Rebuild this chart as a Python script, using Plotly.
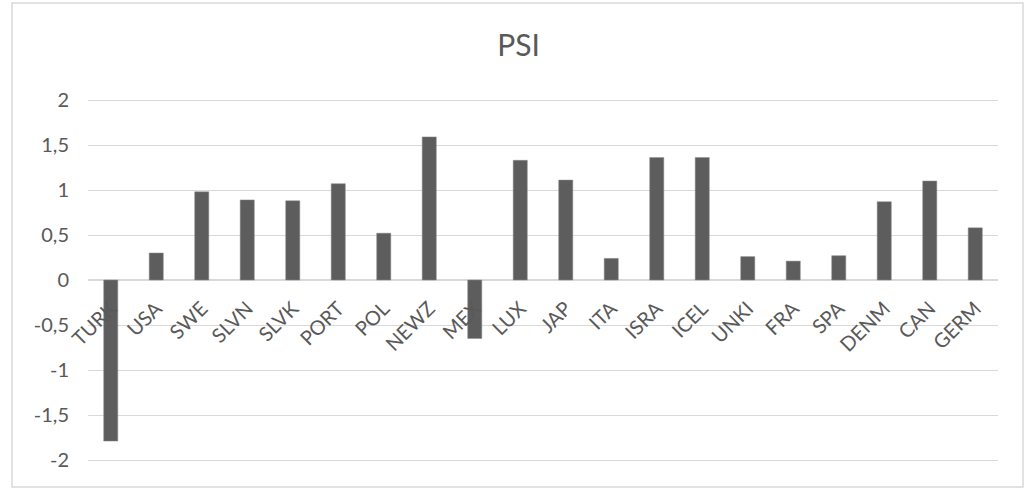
import plotly.graph_objects as go

categories = ["TURK", "USA", "SWE", "SLVN", "SLVK", "PORT", "POL", "NEWZ", "MEX", "LUX",
              "JAP", "ITA", "ISRA", "ICEL", "UNKI", "FRA", "SPA", "DENM", "CAN", "GERM"]
psi = [-1.79, 0.30, 0.98, 0.89, 0.88, 1.07, 0.52, 1.59, -0.65, 1.33,
       1.11, 0.24, 1.36, 1.36, 0.26, 0.21, 0.27, 0.87, 1.10, 0.58]
y_ticks = [-2, -1.5, -1, -0.5, 0, 0.5, 1, 1.5, 2]
y_tick_text = ["-2", "-1,5", "-1", "-0,5", "0", "0,5", "1", "1,5", "2"]

FONT = "Lato, Open Sans, sans-serif"
GREY_TXT = "#595959"

fig = go.Figure(go.Bar(
    x=categories, y=psi,
    marker=dict(color="#5d5d5d", line=dict(color="#8a8a8a", width=0.5)),
))

fig.update_layout(
    width=1029, height=488,
    margin=dict(l=88, r=31, t=82, b=10),
    paper_bgcolor="white", plot_bgcolor="white",
    bargap=0.69,
    showlegend=False,
    title=dict(text="PSI", x=0.504, xref="container", xanchor="center",
               y=1 - 45/488, yref="container", yanchor="middle",
               font=dict(family=FONT, size=30, color=GREY_TXT)),
    xaxis=dict(anchor="free", position=0.5, showline=False, showgrid=False,
               zeroline=False, ticks="", tickangle=-45, ticklabelstandoff=12,
               tickfont=dict(family=FONT, size=20, color=GREY_TXT)),
    yaxis=dict(range=[-2.2, 2.2], tickvals=y_ticks, ticktext=y_tick_text,
               showgrid=True, gridcolor="#d9d9d9", gridwidth=1,
               zeroline=True, zerolinecolor="#d9d9d9", zerolinewidth=1.5,
               showline=False, ticks="", ticklabelstandoff=18,
               tickfont=dict(family=FONT, size=20, color=GREY_TXT)),
    shapes=[dict(type="rect", xref="paper", yref="paper",
                 x0=-76/910, x1=(1023-88)/910, y0=-9/396, y1=(478-3)/396,
                 line=dict(color="#d9d9d9", width=1.5), fillcolor="rgba(0,0,0,0)",
                 layer="below")],
)

fig.write_html("out.html", config={"displayModeBar": False},
               post_script="document.body.style.margin='0';")
